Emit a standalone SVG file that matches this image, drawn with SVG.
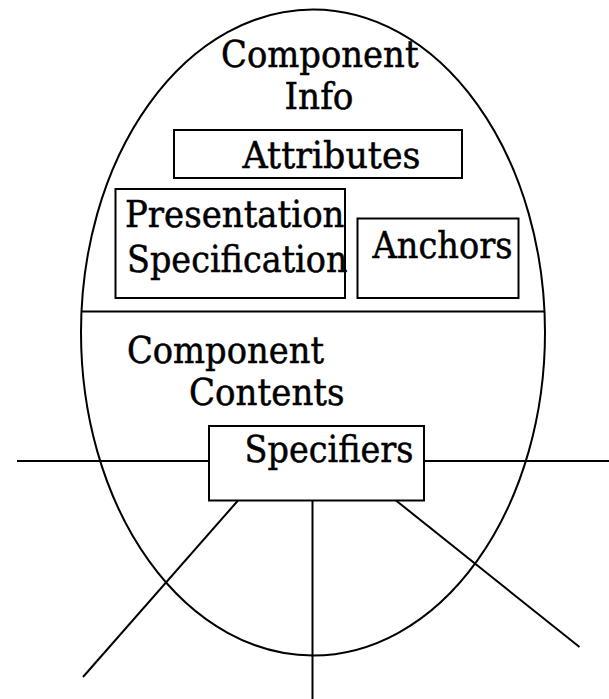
<svg xmlns="http://www.w3.org/2000/svg" width="609" height="699" viewBox="0 0 609 699">
  <style>
    .shape { fill: none; stroke: #000; stroke-width: 2; }
    .wire { stroke: #000; stroke-width: 2; fill: none; }
    .label { font-family: "DejaVu Serif", "Liberation Serif", serif; font-size: 37px; fill: #000; stroke: #000; stroke-width: 0.5; }
  </style>
  <rect width="609" height="699" fill="#fff"/>

  <!-- outer component shell, split into info and contents halves -->
  <g id="component">
    <ellipse class="shape" cx="313" cy="332.5" rx="232" ry="323"/>
    <line class="shape" x1="82" y1="311.5" x2="544" y2="311.5"/>
    <text class="label" x="221" y="67" textLength="197.5" lengthAdjust="spacingAndGlyphs">Component</text>
    <text class="label" x="284.5" y="109.3" textLength="69" lengthAdjust="spacingAndGlyphs">Info</text>
    <text class="label" x="127" y="362.5" textLength="197" lengthAdjust="spacingAndGlyphs">Component</text>
    <text class="label" x="189" y="405" textLength="155.5" lengthAdjust="spacingAndGlyphs">Contents</text>
  </g>

  <g id="attributes">
    <rect class="shape" x="174" y="130" width="288" height="48"/>
    <text class="label" x="242.5" y="167.5" textLength="178" lengthAdjust="spacingAndGlyphs">Attributes</text>
  </g>

  <g id="presentation-specification">
    <rect class="shape" x="115.5" y="189" width="229.5" height="109"/>
    <text class="label" x="125" y="226.7" textLength="219.5" lengthAdjust="spacingAndGlyphs">Presentation</text>
    <text class="label" x="127" y="271.7" textLength="220.5" lengthAdjust="spacingAndGlyphs">Specification</text>
  </g>

  <g id="anchors">
    <rect class="shape" x="357.5" y="218.5" width="161" height="79.5"/>
    <text class="label" x="372.5" y="258" textLength="140" lengthAdjust="spacingAndGlyphs">Anchors</text>
  </g>

  <g id="specifiers">
    <rect class="shape" x="209" y="426" width="215" height="74.5"/>
    <text class="label" x="244.5" y="461.5" textLength="169" lengthAdjust="spacingAndGlyphs">Specifiers</text>
  </g>

  <!-- links fanning out of the specifiers box -->
  <g id="connectors">
    <line class="wire" x1="17" y1="461" x2="209" y2="461"/>
    <line class="wire" x1="424" y1="461" x2="609" y2="461"/>
    <line class="wire" x1="238" y1="500.5" x2="83" y2="677"/>
    <line class="wire" x1="312.5" y1="500.5" x2="312.5" y2="699"/>
    <line class="wire" x1="396" y1="500.5" x2="579.5" y2="647"/>
  </g>
</svg>
